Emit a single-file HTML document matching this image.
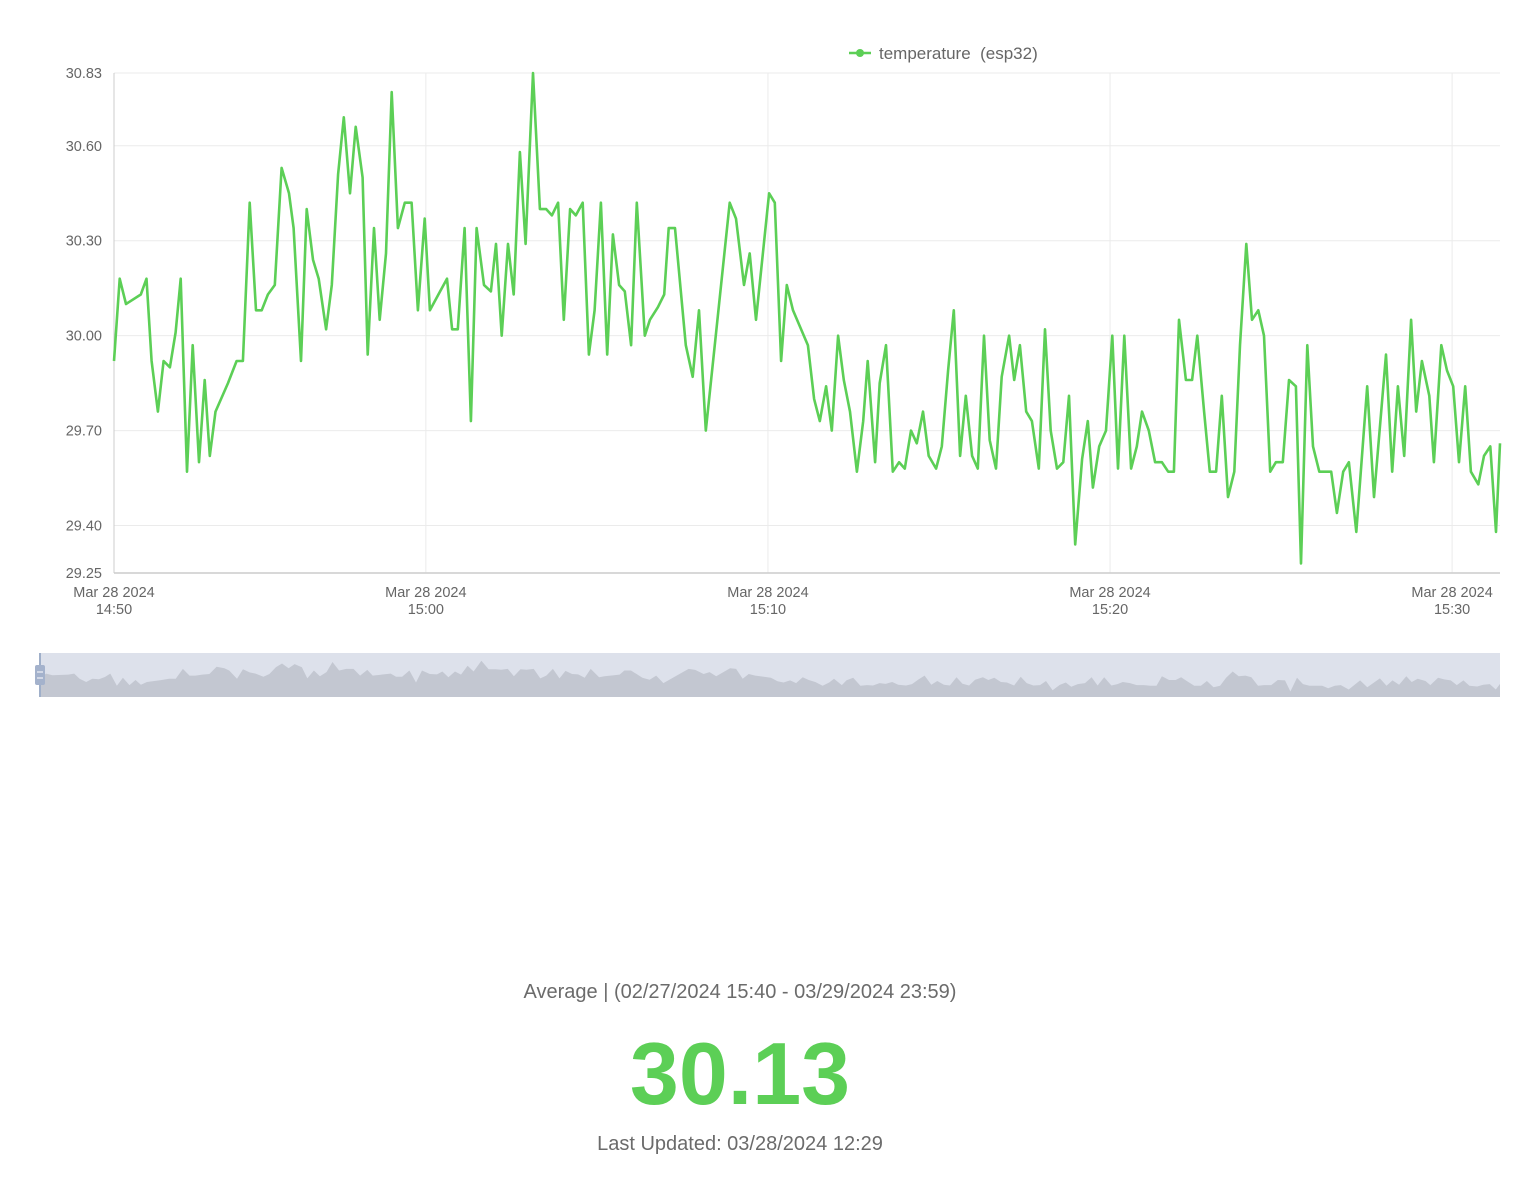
<!DOCTYPE html>
<html><head><meta charset="utf-8"><style>
html,body{margin:0;padding:0;background:#fff;width:1526px;height:1178px;overflow:hidden;font-family:"Liberation Sans",sans-serif}
svg{position:absolute;left:0;top:0}
.t{position:absolute;left:0;width:1480px;text-align:center;color:#6b6b6b}
</style></head><body>
<svg id="chart" width="1526" height="720" xmlns="http://www.w3.org/2000/svg"></svg>
<div class="t" style="top:981px;font-size:20px;">Average | (02/27/2024 15:40 - 03/29/2024 23:59)</div>
<div class="t" style="top:1024px;font-size:88px;font-weight:bold;color:#5ccf56;line-height:100px;">30.13</div>
<div class="t" style="top:1133px;font-size:20px;">Last Updated: 03/28/2024 12:29</div>
<script>
// seconds since 14:50:00
const times=[53,63,74,100,110,119,130,140,151,161,170,181,191,202,212,221,231,253,268,279,291,302,312,323,335,347,360,368,381,391,402,412,425,435,446,456,467,477,489,498,509,519,530,540,551,563,575,586,598,607,625,637,646,656,668,679,689,702,714,723,733,744,754,765,775,788,800,811,821,832,842,853,863,875,886,896,907,918,928,939,949,960,970,984,993,1007,1018,1026,1037,1056,1068,1079,1091,1109,1133,1144,1158,1168,1179,1202,1212,1223,1233,1244,1270,1281,1291,1302,1312,1323,1333,1344,1356,1367,1375,1388,1396,1407,1419,1430,1440,1451,1461,1472,1482,1495,1505,1516,1526,1537,1547,1558,1568,1579,1589,1600,1610,1623,1632,1642,1653,1663,1675,1686,1696,1707,1718,1728,1739,1751,1761,1770,1781,1793,1804,1814,1825,1837,1847,1856,1868,1879,1891,1902,1912,1921,1933,1944,1953,1965,1975,1986,1996,2007,2018,2028,2039,2049,2060,2070,2081,2091,2103,2114,2126,2135,2146,2156,2167,2188,2198,2209,2219,2232,2251,2263,2284,2295,2305,2316,2328,2337,2347,2360,2368,2381,2391,2402,2412,2423,2433,2446,2456,2467,2477,2484];
const temps=[29.92,30.18,30.10,30.13,30.18,29.92,29.76,29.92,29.90,30.01,30.18,29.57,29.97,29.60,29.86,29.62,29.76,29.85,29.92,29.92,30.42,30.08,30.08,30.13,30.16,30.53,30.45,30.34,29.92,30.40,30.24,30.18,30.02,30.16,30.51,30.69,30.45,30.66,30.50,29.94,30.34,30.05,30.26,30.77,30.34,30.42,30.42,30.08,30.37,30.08,30.14,30.18,30.02,30.02,30.34,29.73,30.34,30.16,30.14,30.29,30.00,30.29,30.13,30.58,30.29,30.83,30.40,30.40,30.38,30.42,30.05,30.40,30.38,30.42,29.94,30.08,30.42,29.94,30.32,30.16,30.14,29.97,30.42,30.00,30.05,30.09,30.13,30.34,30.34,29.97,29.87,30.08,29.70,30.01,30.42,30.37,30.16,30.26,30.05,30.45,30.42,29.92,30.16,30.08,29.97,29.80,29.73,29.84,29.70,30.00,29.86,29.76,29.57,29.73,29.92,29.60,29.85,29.97,29.57,29.60,29.58,29.70,29.66,29.76,29.62,29.58,29.65,29.89,30.08,29.62,29.81,29.62,29.58,30.00,29.67,29.58,29.87,30.00,29.86,29.97,29.76,29.73,29.58,30.02,29.70,29.58,29.60,29.81,29.34,29.61,29.73,29.52,29.65,29.70,30.00,29.58,30.00,29.58,29.65,29.76,29.70,29.60,29.60,29.57,29.57,30.05,29.86,29.86,30.00,29.76,29.57,29.57,29.81,29.49,29.57,29.97,30.29,30.05,30.08,30.00,29.57,29.60,29.60,29.86,29.84,29.28,29.97,29.65,29.57,29.57,29.44,29.57,29.60,29.38,29.84,29.49,29.94,29.57,29.84,29.62,30.05,29.76,29.92,29.81,29.60,29.97,29.89,29.84,29.60,29.84,29.57,29.53,29.62,29.65,29.38,29.66];
const yTicks=[30.83,30.60,30.30,30.00,29.70,29.40,29.25];
const xTicks=[53,600,1200,1800,2400];
const xTickLabels=["14:50","15:00","15:10","15:20","15:30"];

const NS="http://www.w3.org/2000/svg";
const svg=document.getElementById('chart');
const L=114,R=1500,T=73,B=573,yMin=29.25,yMax=30.83,tMin=53,tMax=2484;
function xs(t){return L+(t-tMin)*(R-L)/(tMax-tMin);}
function ys(v){return B-(v-yMin)*(B-T)/(yMax-yMin);}
function mk(tag,attrs){const e=document.createElementNS(NS,tag);for(const k in attrs)e.setAttribute(k,attrs[k]);svg.appendChild(e);return e;}

yTicks.forEach(v=>{
  const y=ys(v);
  const g=mk('line',{x1:L,x2:R,y1:y,y2:y,stroke:'#ebebeb','stroke-width':1});
  
  
  const tx=mk('text',{x:102,y:y+5,'text-anchor':'end','font-size':14.5,fill:'#666','font-family':'Liberation Sans, sans-serif'});
  tx.textContent=v.toFixed(2);
  
  
});
xTicks.forEach((t,i)=>{
  const x=xs(t);
  if(i>0){const g=mk('line',{x1:x,x2:x,y1:T,y2:B,stroke:'#ebebeb','stroke-width':1});
  
  }
  const a=mk('text',{x:x,y:597,'text-anchor':'middle','font-size':14.5,fill:'#666','font-family':'Liberation Sans, sans-serif'});
  a.textContent='Mar 28 2024';
  
  
  const b=mk('text',{x:x,y:614,'text-anchor':'middle','font-size':14.5,fill:'#666','font-family':'Liberation Sans, sans-serif'});
  b.textContent=xTickLabels[i];
  
  
});
const ya=mk('line',{x1:L,x2:L,y1:T,y2:B,stroke:'#ccc','stroke-width':1});


const xa=mk('line',{x1:L,x2:R,y1:B,y2:B,stroke:'#ccc','stroke-width':1.5});



let d=times.map((t,i)=>(i?'L':'M')+xs(t).toFixed(1)+','+ys(temps[i]).toFixed(1)).join(' ');
const line=mk('path',{d:d,fill:'none',stroke:'#5ccf56','stroke-width':2.6,'stroke-linejoin':'round'});



// legend
const lg=mk('line',{x1:849,x2:871,y1:53,y2:53,stroke:'#5ccf56','stroke-width':2.5});


const lc=mk('circle',{cx:860,cy:53,r:4,fill:'#5ccf56'});


const lt=mk('text',{x:879,y:59,'font-size':17,fill:'#666','font-family':'Liberation Sans, sans-serif'});
lt.textContent='temperature\u00a0\u00a0(esp32)';



// data zoom
const ZL=40,ZR=1500,ZT=653,ZB=697;
const zb=mk('rect',{x:ZL,y:ZT,width:ZR-ZL,height:ZB-ZT,fill:'#dde1eb'});


function zx(t){return ZL+(t-tMin)*(ZR-ZL)/(tMax-tMin);}
function zy(v){return ZB-(v-29.0)*19.8;}
let za='M'+ZL+','+ZB+' '+times.map((t,i)=>'L'+zx(t).toFixed(1)+','+zy(temps[i]).toFixed(1)).join(' ')+' L'+ZR+','+ZB+' Z';
const area=mk('path',{d:za,fill:'#c3c7d1'});


const zl=mk('line',{x1:ZL,x2:ZL,y1:ZT,y2:ZB,stroke:'#9fafc9','stroke-width':2});


const h=mk('rect',{x:35,y:665,width:10,height:20,rx:2,fill:'#a4b2cc'});


[672,678].forEach(y=>{const hl=mk('line',{x1:37,x2:43,y1:y,y2:y,stroke:'#fff','stroke-width':1});

});
</script>
</body></html>
